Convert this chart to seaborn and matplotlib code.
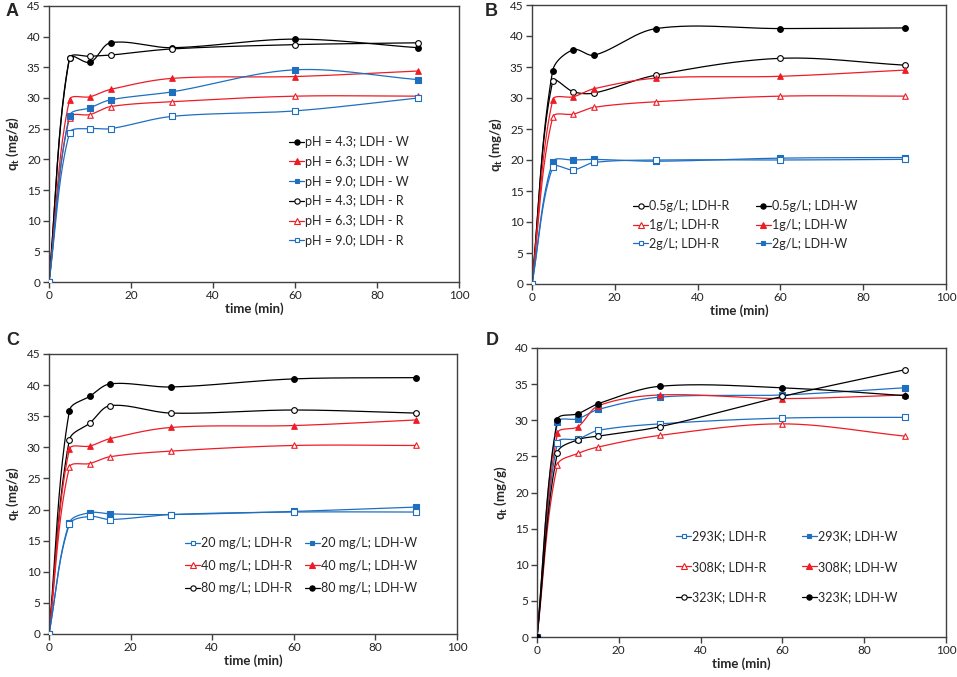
import numpy as np
import matplotlib
matplotlib.use("Agg")
import matplotlib.pyplot as plt
from matplotlib.lines import Line2D
import seaborn as sns

sns.set_theme(style="white")
plt.rcParams['font.family'] = ['Lato', 'DejaVu Sans']
plt.rcParams['mathtext.fontset'] = 'custom'
plt.rcParams['mathtext.rm'] = 'Lato'
plt.rcParams['mathtext.bf'] = 'Lato:bold'

time = [0, 5, 10, 15, 30, 60, 90]

# Panel A (pH)
a_ph43_w = [0, 36.6, 35.8, 39.0, 38.2, 39.6, 38.2]
a_ph63_w = [0, 29.7, 30.2, 31.4, 33.2, 33.5, 34.4]
a_ph90_w = [0, 27.1, 28.4, 29.7, 31.0, 34.6, 33.0]
a_ph43_r = [0, 36.5, 36.8, 37.0, 38.0, 38.7, 39.0]
a_ph63_r = [0, 26.8, 27.3, 28.6, 29.4, 30.3, 30.3]
a_ph90_r = [0, 24.3, 25.0, 25.0, 27.0, 27.9, 30.0]

# Panel B (dose)
b_05_r = [0, 32.7, 31.0, 30.8, 33.7, 36.4, 35.3]
b_05_w = [0, 34.4, 37.8, 36.9, 41.2, 41.2, 41.3]
b_1_r = [0, 26.9, 27.4, 28.5, 29.4, 30.3, 30.3]
b_1_w = [0, 29.7, 30.2, 31.5, 33.2, 33.5, 34.5]
b_2_r = [0, 18.8, 18.4, 19.6, 20.0, 20.0, 20.1]
b_2_w = [0, 19.7, 20.0, 20.1, 19.8, 20.3, 20.4]

# Panel C (concentration)
c_20_r = [0, 17.6, 18.9, 18.4, 19.2, 19.6, 19.6]
c_20_w = [0, 17.9, 19.5, 19.3, 19.2, 19.7, 20.4]
c_40_r = [0, 26.8, 27.4, 28.5, 29.4, 30.3, 30.3]
c_40_w = [0, 29.7, 30.2, 31.4, 33.2, 33.5, 34.4]
c_80_r = [0, 31.2, 33.9, 36.7, 35.5, 36.0, 35.5]
c_80_w = [0, 35.9, 38.2, 40.2, 39.7, 41.0, 41.2]

# Panel D (temperature)
d_293_r = [0, 26.9, 27.4, 28.6, 29.5, 30.3, 30.4]
d_293_w = [0, 29.7, 30.2, 31.5, 33.2, 33.5, 34.5]
d_308_r = [0, 23.8, 25.4, 26.3, 27.9, 29.5, 27.8]
d_308_w = [0, 28.2, 29.1, 32.0, 33.5, 33.0, 33.5]
d_323_r = [0, 25.5, 27.3, 27.8, 29.1, 33.3, 37.0]
d_323_w = [0, 30.1, 30.9, 32.3, 34.7, 34.5, 33.4]

BLACK = '#000000'
RED = '#EE1C25'
BLUE = '#1F6FC0'
SPINE = '#404040'

W, H = 957, 677
fig = plt.figure(figsize=(W / 100, H / 100), dpi=100)


def add_ax(l, r, t, b):
    return fig.add_axes([l / W, (H - b) / H, (r - l) / W, (b - t) / H])


def smooth(x, y, sx, sy, n=40):
    P = np.column_stack([np.asarray(x, float) * sx, np.asarray(y, float) * sy])
    xs, ys = [], []
    m = len(P)
    for i in range(m - 1):
        p0 = P[i - 1] if i > 0 else P[i]
        p1, p2 = P[i], P[i + 1]
        p3 = P[i + 2] if i + 2 < m else P[i + 1]
        d01 = np.linalg.norm(p1 - p0)
        d12 = np.linalg.norm(p2 - p1)
        d23 = np.linalg.norm(p3 - p2)
        b1 = p1 + (p2 - p0) * (d12 / (d01 + d12)) / 3 if d01 + d12 > 0 else p1
        b2 = p2 - (p3 - p1) * (d12 / (d12 + d23)) / 3 if d12 + d23 > 0 else p2
        t = np.linspace(0, 1, n)[:, None]
        seg = ((1 - t) ** 3) * p1 + 3 * ((1 - t) ** 2) * t * b1 + 3 * (1 - t) * t ** 2 * b2 + t ** 3 * p2
        if i > 0:
            seg = seg[1:]
        xs.append(seg[:, 0] / sx)
        ys.append(seg[:, 1] / sy)
    return np.concatenate(xs), np.concatenate(ys)


MK = {'o': 17, '^': 16, 's': 13}
LW = 0.9


def draw(ax, y, color, marker, filled, sx, sy):
    xs, ys = smooth(time, y, sx, sy)
    sns.lineplot(x=xs, y=ys, sort=False, estimator=None, color=color, lw=LW, ax=ax, zorder=2)
    fc = color if filled else 'white'
    sns.scatterplot(x=time, y=y, marker=marker, s=MK[marker], color=fc, edgecolor=color,
                    linewidth=0.8, ax=ax, zorder=3)


def handle(color, marker, filled, label):
    return Line2D([0], [0], color=color, lw=LW, marker=marker,
                  markersize={'o': 3.8, '^': 3.8, 's': 3.4}[marker],
                  markerfacecolor=color if filled else 'white', markeredgecolor=color,
                  markeredgewidth=0.8, label=label)


def style(ax, ymax, letter, lx, ly):
    ax.set_xlim(0, 100)
    ax.set_ylim(0, ymax)
    ax.set_xticks(range(0, 101, 20))
    ax.set_yticks(range(0, ymax + 1, 5))
    for s in ax.spines.values():
        s.set_visible(True)
        s.set_color(SPINE)
        s.set_linewidth(1.0)
    ax.tick_params(axis='both', which='major', direction='out', length=4, width=1,
                   color=SPINE, labelsize=8.5, labelcolor='#222222', pad=2,
                   bottom=True, left=True)
    ax.set_xlabel('time (min)', fontsize=9.5, fontweight='bold', labelpad=1)
    ax.set_ylabel(r'$\mathbf{q_t}$ (mg/g)', fontsize=9.5, fontweight='bold', labelpad=4)
    ax.grid(False)
    fig.text(lx / W, 1 - ly / H, letter, fontsize=13, fontweight='bold',
             family='Liberation Sans', ha='left', va='center')


def legend(ax, handles, ncol, x, y, colsp, labsp):
    ax.legend(handles=handles, ncol=ncol, loc='upper left', bbox_to_anchor=(x, y),
              frameon=False, fontsize=9, handlelength=1.2, handletextpad=0.1,
              columnspacing=colsp, labelspacing=labsp, borderaxespad=0, borderpad=0,
              numpoints=1)


# ---- Panel A
axA = add_ax(49, 459, 6, 282)
sx, sy = 410 / 100, 276 / 45
draw(axA, a_ph43_w, BLACK, 'o', True, sx, sy)
draw(axA, a_ph43_r, BLACK, 'o', False, sx, sy)
draw(axA, a_ph63_w, RED, '^', True, sx, sy)
draw(axA, a_ph63_r, RED, '^', False, sx, sy)
draw(axA, a_ph90_w, BLUE, 's', True, sx, sy)
draw(axA, a_ph90_r, BLUE, 's', False, sx, sy)
style(axA, 45, 'A', 6, 11)
legend(axA, [handle(BLACK, 'o', True, 'pH = 4.3; LDH - W'),
             handle(RED, '^', True, 'pH = 6.3; LDH - W'),
             handle(BLUE, 's', True, 'pH = 9.0; LDH - W'),
             handle(BLACK, 'o', False, 'pH = 4.3; LDH - R'),
             handle(RED, '^', False, 'pH = 6.3; LDH - R'),
             handle(BLUE, 's', False, 'pH = 9.0; LDH - R')],
       1, (289 - 49) / 410, (282 - 136) / 276, 1.0, 0.62)

# ---- Panel B
axB = add_ax(532, 946, 5, 284)
sx, sy = 414 / 100, 279 / 45
draw(axB, b_05_w, BLACK, 'o', True, sx, sy)
draw(axB, b_05_r, BLACK, 'o', False, sx, sy)
draw(axB, b_1_w, RED, '^', True, sx, sy)
draw(axB, b_1_r, RED, '^', False, sx, sy)
draw(axB, b_2_w, BLUE, 's', True, sx, sy)
draw(axB, b_2_r, BLUE, 's', False, sx, sy)
style(axB, 45, 'B', 485, 11)
legend(axB, [handle(BLACK, 'o', False, '0.5g/L; LDH-R'),
             handle(RED, '^', False, '1g/L; LDH-R'),
             handle(BLUE, 's', False, '2g/L; LDH-R'),
             handle(BLACK, 'o', True, '0.5g/L; LDH-W'),
             handle(RED, '^', True, '1g/L; LDH-W'),
             handle(BLUE, 's', True, '2g/L; LDH-W')],
       2, (633 - 532) / 414, (284 - 200) / 279, 2.1, 0.55)

# ---- Panel C
axC = add_ax(49, 457, 354, 634)
sx, sy = 408 / 100, 280 / 45
draw(axC, c_80_w, BLACK, 'o', True, sx, sy)
draw(axC, c_80_r, BLACK, 'o', False, sx, sy)
draw(axC, c_40_w, RED, '^', True, sx, sy)
draw(axC, c_40_r, RED, '^', False, sx, sy)
draw(axC, c_20_w, BLUE, 's', True, sx, sy)
draw(axC, c_20_r, BLUE, 's', False, sx, sy)
style(axC, 45, 'C', 6, 340)
legend(axC, [handle(BLUE, 's', False, '20 mg/L; LDH-R'),
             handle(RED, '^', False, '40 mg/L; LDH-R'),
             handle(BLACK, 'o', False, '80 mg/L; LDH-R'),
             handle(BLUE, 's', True, '20 mg/L; LDH-W'),
             handle(RED, '^', True, '40 mg/L; LDH-W'),
             handle(BLACK, 'o', True, '80 mg/L; LDH-W')],
       2, (185 - 49) / 408, (634 - 537) / 280, 1.0, 0.85)

# ---- Panel D
axD = add_ax(537, 946, 348, 637)
sx, sy = 409 / 100, 289 / 40
draw(axD, d_293_w, BLUE, 's', True, sx, sy)
draw(axD, d_293_r, BLUE, 's', False, sx, sy)
draw(axD, d_308_w, RED, '^', True, sx, sy)
draw(axD, d_308_r, RED, '^', False, sx, sy)
draw(axD, d_323_r, BLACK, 'o', False, sx, sy)
draw(axD, d_323_w, BLACK, 'o', True, sx, sy)
style(axD, 40, 'D', 486, 340)
legend(axD, [handle(BLUE, 's', False, '293K; LDH-R'),
             handle(RED, '^', False, '308K; LDH-R'),
             handle(BLACK, 'o', False, '323K; LDH-R'),
             handle(BLUE, 's', True, '293K; LDH-W'),
             handle(RED, '^', True, '308K; LDH-W'),
             handle(BLACK, 'o', True, '323K; LDH-W')],
       2, (676 - 537) / 409, (637 - 530) / 289, 2.8, 1.5)

fig.savefig('out.png', dpi=100)
